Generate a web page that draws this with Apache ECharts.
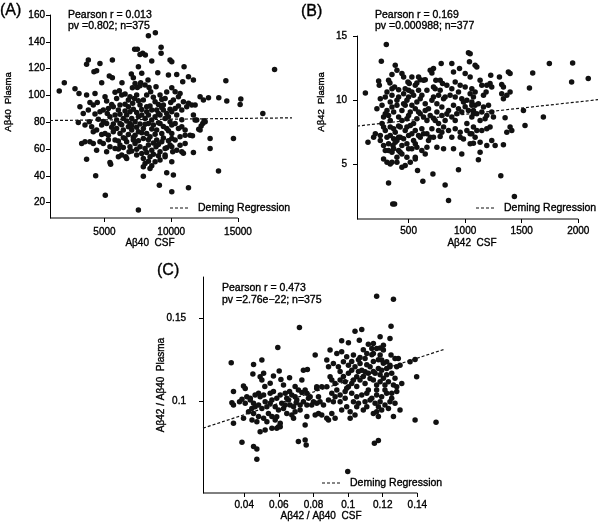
<!DOCTYPE html>
<html><head><meta charset="utf-8">
<script src="https://cdn.jsdelivr.net/npm/echarts@6/dist/echarts.min.js"></script>
<style>html,body{margin:0;padding:0;background:#fff}#c{width:600px;height:526px}</style>
</head><body><div id="c"></div>
<script>
const FONT = '"Liberation Sans", Arial, Helvetica, sans-serif';

// Panel A: Aβ40 CSF vs Aβ40 Plasma
const ptsA = [[8290,144.6],[8810,146.8],[7260,134.4],[7460,134.4],[9240,135.9],[9240,131.4],[7860,131.4],[8060,130.1],[3790,126.4],[3660,123.2],[4660,123.9],[5590,126.4],[8540,125.7],[10040,125.2],[10960,121.4],[10410,115.7],[11290,114.0],[11660,111.5],[10860,110.2],[9790,115.2],[9910,126.4],[8990,117.0],[7660,130.6],[7540,121.4],[7790,116.5],[7160,113.2],[7010,116.0],[5590,113.2],[5360,114.5],[4210,117.7],[4410,118.5],[4790,109.5],[1610,103.3],[1990,109.5],[2790,105.0],[3090,101.5],[3660,100.3],[4290,101.5],[6110,103.5],[6540,101.0],[6310,109.5],[7090,105.8],[7710,109.5],[8260,111.5],[7290,109.0],[7460,106.0],[7660,107.3],[8040,107.8],[8340,106.0],[8460,102.8],[8160,100.3],[7410,100.3],[7240,97.8],[6790,96.6],[8860,106.5],[9160,100.3],[9540,97.8],[9960,94.8],[9410,92.8],[9910,89.8],[9040,93.3],[10040,105.8],[10290,102.8],[10660,101.5],[10540,99.0],[10160,96.6],[10910,95.3],[11290,94.1],[11540,92.8],[11790,92.8],[11160,91.6],[10790,89.1],[10040,87.9],[10410,85.4],[12160,99.0],[12410,96.6],[12790,98.3],[13560,98.3],[14090,111.0],[14160,95.8],[15210,97.3],[15160,93.3],[17740,119.4],[16860,86.6],[14660,67.9],[13540,43.6],[12910,60.5],[12910,67.9],[12360,79.1],[12460,81.1],[12240,77.2],[12060,74.7],[11790,81.6],[11660,85.4],[11410,70.4],[11040,74.2],[10790,76.7],[10540,75.4],[10290,79.1],[9910,80.4],[12160,74.2],[12540,80.4],[11910,81.6],[10040,67.9],[10290,66.7],[10660,69.2],[11040,70.4],[11590,69.9],[10110,58.0],[10410,59.2],[10790,58.0],[11660,57.5],[10910,56.8],[10040,50.5],[9540,54.3],[9660,61.0],[10160,40.6],[9660,42.3],[9110,33.1],[10040,28.1],[11290,31.1],[7910,39.8],[7540,14.5],[5060,25.6],[4340,40.1],[3660,52.5],[5410,50.0],[5460,48.6],[6040,60.0],[6590,54.3],[6840,58.0],[8040,49.3],[8290,51.0],[8540,47.5],[7910,46.8],[8410,45.6],[6040,54.3],[6290,55.5],[6660,53.0],[7410,55.5],[7910,53.0],[8410,54.3],[8790,50.5],[9160,51.8],[9540,55.5],[5410,61.7],[5790,60.5],[6160,63.0],[6660,65.5],[6910,61.7],[7290,64.2],[7660,61.7],[8040,60.5],[8290,63.0],[8540,59.2],[8860,61.7],[9160,58.0],[9540,60.5],[9910,63.0],[3290,64.2],[3540,65.5],[3910,65.5],[4160,64.2],[4660,65.5],[4910,64.2],[5040,71.7],[5290,70.4],[5660,72.9],[5910,75.4],[6160,71.7],[6410,74.2],[6790,76.7],[7040,74.2],[7290,70.4],[7540,72.9],[7910,75.4],[8160,71.7],[8410,69.2],[8910,74.2],[9290,71.7],[9660,75.4],[10040,71.7],[3040,79.9],[3540,77.9],[3860,80.4],[4040,76.7],[4410,74.2],[4160,72.9],[4660,87.9],[4910,89.1],[5210,86.6],[5410,84.1],[5790,85.4],[6160,85.9],[6410,82.9],[6660,85.4],[6910,87.9],[7040,82.9],[7290,80.4],[7540,84.1],[7790,85.4],[8040,82.9],[8290,85.4],[8540,81.6],[8790,84.1],[9160,85.4],[9540,82.9],[10040,77.9],[3910,94.8],[4160,92.8],[4460,94.8],[5040,99.0],[5160,95.8],[5540,93.3],[5910,97.8],[6290,100.3],[6160,92.8],[6790,91.6],[7660,92.8],[8160,91.6],[8540,89.1],[8790,95.3],[7910,96.6],[7110,94.1],[3410,86.6],[3790,89.1],[3160,91.6],[7160,66.7],[8910,66.7],[6540,67.9],[5790,66.7],[4410,59.2],[7910,67.9],[9290,65.5],[5160,58.0],[4790,77.9],[5160,79.1],[5660,78.7],[8660,77.9],[9160,79.1],[8290,79.1],[7660,78.7],[6910,79.1],[6160,79.1],[9410,89.1],[9660,86.6],[8910,89.1],
[5290,90.3],[5660,91.6],[6040,89.1],[6540,88.4],[7160,89.8],[7410,87.2],[7790,89.6],[8160,87.9],[8410,92.1],[9040,86.6],[9290,91.1],[9790,84.1],[10290,90.3],[6290,78.2],[6660,80.9],[7040,77.4],[7410,76.2],[7790,72.2],[8040,78.6],[8540,74.9],[8790,71.1],[9040,79.6],[9410,76.9],[9790,73.6],[5540,76.2],[5910,81.6],[6410,68.4],[6790,70.9],[7160,68.9],[7540,66.3],[8290,66.9],[8660,64.6],[9040,63.5],[9410,68.2],[9790,66.2],[10040,61.8],[7040,58.6],[7410,59.8],[7790,56.7],[8160,57.4],[8660,56.2],[9040,55.1],[6410,61.1],[6040,66.1],[5290,66.9],[4790,70.9],[4540,82.2],[4910,80.6],[4290,86.1],[6910,99.1],[7540,96.1],[8660,98.6],[9290,97.0],[9660,102.5],[6540,93.5],[5790,102.3],[10540,92.2],[10790,81.9],[10660,62.9],[11040,64.1]];
const regA = [[918,81.3],[19045,83.3]];
const ticksAx = [5000,10000,15000];
const ticksAy = [20,40,60,80,100,120,140,160];
const statsA = ['Pearson r = 0.013','pv =0.802; n=375'];

// Panel B: Aβ42 CSF vs Aβ42 Plasma
const ptsB = [[118,10.57],[141,6.75],[303,14.34],[259,13.04],[323,11.56],[353,10.91],[323,6.10],[353,5.19],[397,5.19],[323,3.58],[360,1.95],[376,1.95],[362,6.49],[382,12.73],[397,12.34],[494,11.43],[500,10.78],[559,6.62],[559,5.58],[579,4.54],[626,3.71],[715,4.28],[823,3.43],[853,2.21],[941,4.60],[1029,13.69],[1038,12.99],[1103,12.60],[788,12.86],[882,12.86],[1000,12.08],[1044,11.82],[1132,11.56],[950,12.47],[897,12.21],[720,12.47],[741,11.56],[779,11.56],[691,12.34],[706,12.13],[632,11.56],[647,11.61],[603,11.61],[573,11.35],[506,11.30],[559,11.17],[441,12.08],[456,11.82],[1059,10.91],[1191,11.17],[1235,11.04],[1303,11.82],[1323,11.24],[1382,12.21],[1397,12.08],[1226,11.95],[1088,12.73],[1044,13.63],[1147,11.17],[1220,11.30],[1338,11.04],[1323,10.52],[1338,10.13],[1397,10.65],[1368,10.39],[1088,10.65],[1162,10.39],[1185,10.65],[1353,8.65],[1515,9.22],[1529,8.05],[1691,8.70],[1568,10.96],[1597,12.13],[1744,12.86],[1950,12.91],[1941,11.43],[2088,11.69],[1315,4.15],[1435,2.52],
[1059,9.87],[1088,9.61],[1117,9.74],[1162,9.48],[1206,9.61],[1147,9.09],[1191,8.83],[1235,9.09],[1250,8.70],[1176,8.57],[1132,8.44],[1073,9.22],[1103,8.96],[1059,8.70],[1073,7.92],[1103,7.66],[1147,7.66],[1191,7.79],[1220,7.92],[1044,7.40],[1088,7.14],[1368,7.53],[1412,7.66],[1397,7.92],[1132,6.75],[1235,6.88],[1191,6.49],[1265,6.49],[1338,6.54],[1073,6.67],[1132,5.97],[1117,5.38],
[235,11.50],[241,11.17],[335,11.35],[376,11.04],[412,10.83],[470,10.91],[529,10.65],[588,10.78],[662,10.78],[735,10.91],[800,11.30],[838,11.17],[912,11.43],[956,11.17],[1000,11.04],[1044,10.52],[1073,10.26],[720,10.26],[765,10.39],[809,10.13],[867,10.39],[912,10.26],[970,10.13],[1015,10.00],[1059,9.61],[294,10.26],[353,10.39],[412,10.26],[456,10.52],[500,10.26],[544,10.39],[617,10.39],
[220,9.35],[265,9.61],[309,9.22],[353,9.48],[397,9.61],[441,9.22],[470,9.61],[515,9.09],[559,9.35],[603,8.96],[647,9.22],[691,8.83],[750,9.09],[794,8.83],[838,8.96],[882,8.70],[926,8.96],[970,9.09],[1029,9.22],[1073,8.96],[279,8.70],[323,8.83],[412,8.70],[485,8.57],[573,8.57],[662,8.44],[735,8.44],[823,8.44],[912,8.44],
[191,7.14],[250,7.27],[294,7.66],[338,7.92],[382,7.53],[426,7.92],[470,7.66],[515,8.05],[559,7.66],[617,7.79],[662,7.40],[706,7.79],[765,7.66],[809,7.92],[853,7.66],[912,7.79],[956,7.53],[1015,7.66],[1059,7.40],[206,7.40],[309,7.14],[368,7.01],[412,7.14],[500,7.27],[603,7.14],[691,7.14],[779,7.19],[882,7.14],[956,7.14],
[250,6.88],[279,6.49],[323,6.62],[382,6.75],[441,6.49],[485,6.62],[529,6.23],[573,6.36],[617,6.10],[662,6.36],[750,6.36],[809,6.23],[897,6.23],[970,5.84],[1044,6.62],[279,5.45],[309,5.19],[338,5.06],[397,5.58],[441,5.84],[485,5.58],[515,5.19],[559,5.45],[647,5.84],[294,6.10],[353,5.97],[412,6.10],[441,4.80],[470,4.93],
[265,8.2],[294,8.96],[338,9.87],[368,9.1],[397,10.0],[412,8.0],[441,8.44],[456,9.74],[485,10.0],[500,8.83],[529,9.61],[544,8.2],[573,9.87],[588,9.1],[603,10.13],[632,8.7],[647,9.74],[676,9.35],[706,10.0],[720,8.6],[750,9.74],[765,8.2],[794,9.48],[823,10.26],[853,9.22],[897,9.61],[941,9.35],[985,9.87],[338,7.27],[368,7.79],[397,6.88],[426,7.14],[456,7.01],[485,7.92],[529,7.4],[544,6.88],[588,7.27],[632,7.4],[676,6.88],[720,7.14],[794,7.53],[368,6.23],[426,5.97],[500,6.23],[338,8.44],[279,7.92],[250,10.13],[309,10.65],[720,11.04],[779,10.78],[882,10.91],[941,10.65],[588,11.82],[529,11.82],[353,12.0],[1000,9.5],[1015,8.2],[985,7.0]];
const regB = [[44,8.0],[2174,10.05]];
const ticksBx = [500,1000,1500,2000];
const ticksBy = [5,10,15];
const statsB = ['Pearson r = 0.169','pv =0.000988; n=377'];

// Panel C: Aβ42/Aβ40 CSF vs Aβ42/Aβ40 Plasma
const ptsC = [[0.0325,0.1232],[0.0719,0.1442],[0.0594,0.1323],[0.0454,0.1222],[0.0502,0.1248],[0.0450,0.1165],[0.0492,0.1149],[0.0502,0.1129],[0.0512,0.1169],[0.0569,0.1153],[0.0602,0.1183],[0.0612,0.1133],[0.0662,0.1143],[0.0733,0.1129],[0.0742,0.1188],[0.0765,0.1192],[0.0810,0.1278],[0.0396,0.1093],[0.0406,0.1079],[0.0338,0.1060],[0.0329,0.0994],[0.0338,0.0980],[0.0373,0.1000],[0.0387,0.1014],[0.0415,0.1030],[0.0435,0.1020],[0.0454,0.0990],[0.0444,0.0960],[0.0463,0.0970],[0.0483,0.1050],[0.0492,0.1030],[0.0512,0.1040],[0.0521,0.1000],[0.0550,0.1050],[0.0560,0.1010],[0.0588,0.1020],[0.0608,0.1040],[0.0637,0.1050],[0.0662,0.1060],[0.0675,0.1040],[0.0694,0.1030],[0.0646,0.1020],[0.0713,0.1069],[0.0733,0.1054],[0.0762,0.1050],[0.0781,0.1030],[0.0800,0.1000],[0.0819,0.1079],[0.0579,0.0970],[0.0617,0.0990],[0.0637,0.0980],[0.0665,0.0980],[0.0700,0.0994],[0.0723,0.0980],[0.0762,0.0980],[0.0790,0.0980],[0.0819,0.0990],[0.0425,0.0940],[0.0454,0.0930],[0.0483,0.0911],[0.0512,0.0901],[0.0540,0.0930],[0.0560,0.0911],[0.0579,0.0891],[0.0608,0.0871],[0.0608,0.0851],[0.0675,0.0921],[0.0685,0.0901],[0.0723,0.0950],[0.0762,0.0911],[0.0810,0.0921],[0.0752,0.0861],[0.0396,0.0901],[0.0338,0.0871],[0.0492,0.0821],[0.0521,0.0831],[0.0560,0.0841],[0.0588,0.0841],[0.0387,0.0758],[0.0454,0.0732],[0.0473,0.0718],[0.0473,0.0657],[0.0598,0.0851],[0.0713,0.0762],[0.0752,0.0772],[0.0758,0.0742],
[0.1165,0.1629],[0.1262,0.1611],[0.1248,0.1450],[0.1040,0.1421],[0.1079,0.1431],[0.1185,0.1387],[0.1242,0.1377],[0.0963,0.1363],[0.1002,0.1351],[0.1065,0.1367],[0.1117,0.1343],[0.1146,0.1347],[0.1137,0.1317],[0.1165,0.1317],[0.1204,0.1337],[0.1204,0.1308],[0.1248,0.1278],[0.0896,0.1308],[0.0935,0.1288],[0.0963,0.1298],[0.0992,0.1268],[0.1031,0.1278],[0.1069,0.1264],[0.1098,0.1258],[0.1108,0.1288],[0.1146,0.1288],[0.1185,0.1278],[0.1194,0.1248],[0.1223,0.1238],[0.1271,0.1258],[0.1290,0.1258],[0.1281,0.1208],[0.1242,0.1208],[0.0877,0.1248],[0.0887,0.1208],[0.0915,0.1228],[0.0944,0.1208],[0.0973,0.1238],[0.1002,0.1218],[0.1021,0.1188],[0.1040,0.1208],[0.1069,0.1228],[0.1079,0.1188],[0.1098,0.1179],[0.1127,0.1208],[0.1156,0.1169],[0.1175,0.1198],[0.1194,0.1188],[0.1223,0.1198],[0.1242,0.1218],[0.1300,0.1218],[0.1358,0.1238],[0.1387,0.1252],[0.0819,0.1089],[0.0848,0.1089],[0.0877,0.1089],[0.0896,0.1149],[0.0906,0.1129],[0.0925,0.1109],[0.0954,0.1129],[0.0983,0.1119],[0.1002,0.1089],[0.1021,0.1109],[0.1050,0.1149],[0.1069,0.1129],[0.1098,0.1109],[0.1127,0.1139],[0.1146,0.1129],[0.1185,0.1119],[0.1213,0.1099],[0.1233,0.1119],[0.1262,0.1099],[0.1281,0.1089],[0.1310,0.1109],[0.1396,0.1149],[0.0906,0.1050],[0.0925,0.1030],[0.0954,0.1040],[0.0983,0.1060],[0.1021,0.1050],[0.1050,0.1030],[0.1079,0.1040],[0.1108,0.1050],[0.1137,0.1020],[0.1165,0.1040],[0.1194,0.1030],[0.1223,0.1050],[0.1252,0.1020],[0.1281,0.1060],[0.0829,0.1030],[0.0838,0.1000],[0.0858,0.0980],[0.0887,0.1010],[0.0915,0.1000],[0.0954,0.1000],[0.0983,0.1020],[0.1031,0.1000],[0.1060,0.0990],[0.1098,0.1000],[0.1127,0.1010],[0.1156,0.0990],[0.1185,0.1000],[0.1213,0.0980],[0.1242,0.1000],[0.1271,0.0990],[0.0829,0.0930],[0.0848,0.0921],[0.0906,0.0930],[0.0925,0.0901],[0.0963,0.0950],[0.0992,0.0970],[0.1012,0.0940],[0.1040,0.0921],[0.1088,0.0950],[0.1146,0.0930],[0.1165,0.0940],[0.1175,0.0911],[0.1194,0.0950],[0.1262,0.0911],[0.1300,0.0950],[0.1387,0.0891],[0.1508,0.0877],[0.0877,0.0901],[0.0887,0.0891],[0.1012,0.0901],[0.1152,0.0752],[0.1175,0.0768],[0.0998,0.0583],
[0.0406,0.0990],[0.0435,0.1010],[0.0463,0.1040],[0.0483,0.0980],[0.0502,0.0960],[0.0531,0.0970],[0.0550,0.0990],[0.0569,0.1060],[0.0598,0.0950],[0.0627,0.0960],[0.0656,0.1010],[0.0685,0.0970],[0.0704,0.1010],[0.0742,0.1000],[0.0771,0.1020],[0.0445,0.0890],[0.0473,0.0880],[0.0531,0.0880],[0.0588,0.0910],[0.0646,0.0930],[0.0694,0.0940],[0.0519,0.1090],[0.0550,0.1110],[0.0627,0.1100],[0.0694,0.1090],[0.0752,0.1070],[0.0973,0.1150],[0.1002,0.1170],[0.1031,0.1130],[0.1060,0.1180],[0.1088,0.1150],[0.1117,0.1170],[0.1146,0.1180],[0.1165,0.1100],[0.1185,0.1160],[0.1204,0.1140],[0.1223,0.1160],[0.1108,0.1220],[0.1146,0.1240],[0.1175,0.1250],[0.1204,0.1230],[0.1060,0.1250],[0.1021,0.1240],[0.0954,0.1180],[0.0935,0.1070],[0.0992,0.1080],[0.1050,0.1090],[0.1117,0.1070],[0.1165,0.1070],[0.1213,0.1070],[0.1252,0.1050],[0.1050,0.0970],[0.1108,0.0970],[0.1175,0.0970],[0.1233,0.0960],[0.1271,0.1140],[0.1252,0.1170],[0.1137,0.1280],[0.1088,0.1310],[0.1185,0.1320]];
const regC = [[0.0162,0.0842],[0.1554,0.1312]];
const ticksCx = [0.04,0.06,0.08,0.1,0.12,0.14];
const ticksCy = [0.1,0.15];
const statsC = ['Pearson r = 0.473','pv =2.76e\u221222; n=375'];

const legendName = 'Deming Regression';

// ---- layout (view only) ----
const panels = [
  {grid:{left:50, top:15, width:242, height:203}, x:[918,19045], y:[8.6,160], xt:ticksAx, yt:ticksAy, pts:ptsA, reg:regA, xMarg:9, yMarg:5, fmt:v=>String(v)},
  {grid:{left:357, top:36, width:241, height:183}, x:[44,2174], y:[0.78,15], xt:ticksBx, yt:ticksBy, pts:ptsB, reg:regB, xMarg:7, yMarg:10, fmt:v=>String(v)},
  {grid:{left:203, top:277, width:241, height:216}, x:[0.0162,0.1554], y:[0.0455,0.1744], xt:ticksCx, yt:ticksCy, pts:ptsC, reg:regC, xMarg:7, yMarg:17, fmt:v=>String(+(+v).toFixed(3))}
];

const lab = {color:'#000', fontSize:10, fontFamily:FONT, textBorderColor:'#000', textBorderWidth:0.35};
const grid=[], xAxis=[], yAxis=[], series=[];
panels.forEach((p,i)=>{
  grid.push(Object.assign({containLabel:false}, p.grid));
  xAxis.push({type:'value', gridIndex:i, min:p.x[0], max:p.x[1],
    axisLine:{show:false}, splitLine:{show:false},
    axisTick:{show:true, length:4, customValues:p.xt, lineStyle:{color:'#000', width:1}},
    axisLabel:Object.assign({customValues:p.xt, margin:p.xMarg, formatter:p.fmt}, lab)});
  yAxis.push({type:'value', gridIndex:i, min:p.y[0], max:p.y[1],
    axisLine:{show:true, lineStyle:{color:'#000', width:1}}, splitLine:{show:false},
    axisTick:{show:true, length:4, customValues:p.yt, lineStyle:{color:'#000', width:1}},
    axisLabel:Object.assign({customValues:p.yt, margin:p.yMarg, formatter:p.fmt}, lab)});
  series.push({type:'scatter', xAxisIndex:i, yAxisIndex:i, data:p.pts, symbolSize:5.5,
    itemStyle:{color:'#111', opacity:1}, silent:true});
  series.push({type:'line', name:legendName, xAxisIndex:i, yAxisIndex:i, data:p.reg, symbol:'none',
    lineStyle:{color:'#111', width:1.2, type:[3,2]}, silent:true});
  // bottom axis line drawn from the axis start to the last tick
  const lastTick = p.xt[p.xt.length-1];
  series.push({type:'line', xAxisIndex:i, yAxisIndex:i, data:[[p.x[0],p.y[0]],[lastTick,p.y[0]]],
    symbol:'none', clip:false, lineStyle:{color:'#000', width:1}, silent:true});
});

function txt(x, y, text, size, align, rot){
  return {type:'text', x, y, rotation:rot||0, silent:true,
    style:{text, fontSize:size, fontFamily:FONT, fill:'#000', stroke:'#000', lineWidth:0.35,
      align:align||'left', verticalAlign:'middle', textAlign:align||'left', textVerticalAlign:'middle'}};
}
// legend key: dashed sample + label
function key(x, y){
  return [
    {type:'line', silent:true, shape:{x1:x, y1:y, x2:x+18, y2:y},
      style:{stroke:'#111', lineWidth:1.2, lineDash:[3,2]}},
    txt(x+28, y, legendName, 10.5)
  ];
}

const graphic = [
  txt(0, 11, '(A)', 16), txt(301, 12, '(B)', 16), txt(157, 271, '(C)', 16),
  txt(68, 15, statsA[0], 10.5), txt(68, 26.5, statsA[1], 10.5),
  txt(375, 15, statsB[0], 10.5), txt(375, 26.5, statsB[1], 10.5),
  txt(222, 288, statsC[0], 10.5), txt(222, 300.5, statsC[1], 10.5),
  txt(8, 102, 'A\u03b240  Plasma', 9.5, 'center', Math.PI/2),
  txt(321, 102, 'A\u03b242  Plasma', 9.5, 'center', Math.PI/2),
  txt(161, 385, 'A\u03b242 / A\u03b240  Plasma', 10, 'center', Math.PI/2),
  txt(150, 243, 'A\u03b240  CSF', 10, 'center'),
  txt(472, 243, 'A\u03b242  CSF', 10, 'center'),
  txt(321, 516, 'A\u03b242 / A\u03b240  CSF', 10, 'center')
].concat(key(170, 208), key(476, 208), key(322, 483));

const chart = echarts.init(document.getElementById('c'), null, {renderer:'canvas'});
chart.setOption({
  animation:false, backgroundColor:'#fff',
  grid, xAxis, yAxis, series, graphic
});
</script></body></html>
